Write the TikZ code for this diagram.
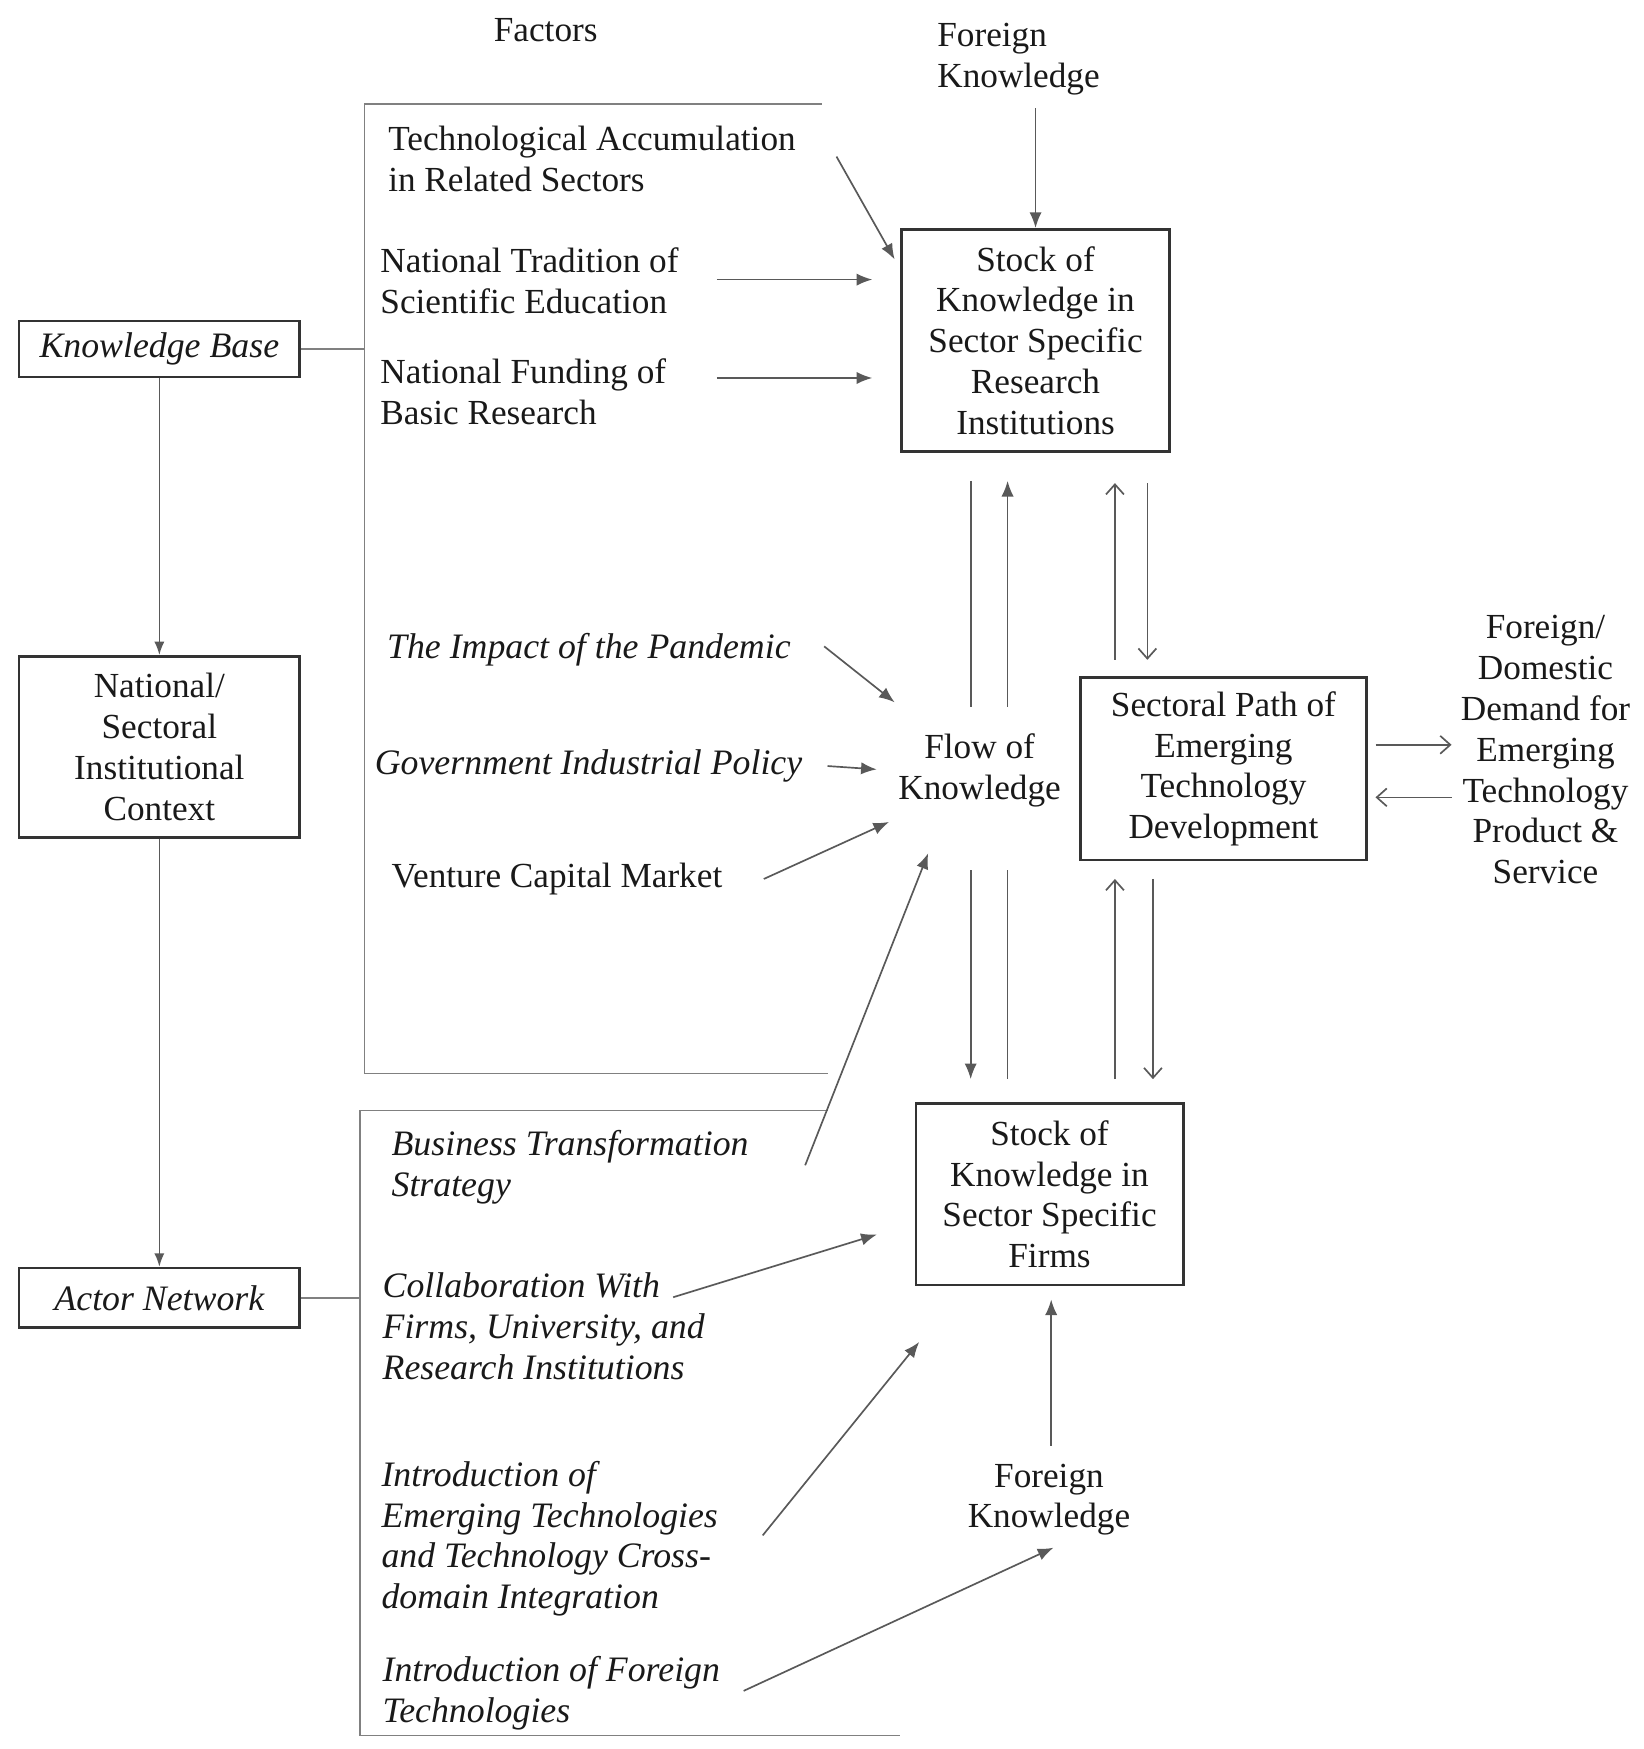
\documentclass[tikz,border=0pt]{standalone}
\usepackage{fontspec}
\setmainfont{LiberationSerif-Regular.ttf}[ItalicFont=LiberationSerif-Italic.ttf, BoldFont=LiberationSerif-Bold.ttf]
\usetikzlibrary{arrows.meta}
\begin{document}
\begin{tikzpicture}[x=1pt,y=-1pt,
  txt/.style={font=\fontsize{31.5}{36.5}\selectfont, inner sep=0pt, text=black!90},
  itx/.style={font=\fontsize{32}{36.5}\selectfont\itshape, inner sep=0pt, text=black!90},
  boxn/.style={draw=black!80, line width=2.4pt, align=center, inner sep=0pt, font=\fontsize{31.5}{36.5}\selectfont, text=black!90},
  conn/.style={draw=black!65, line width=1.5pt},
  fa/.style={conn, -{Latex[length=14pt,width=11pt]}},
  oa/.style={conn, -{Straight Barb[length=9pt,width=16pt]}},
  brk/.style={draw=black!50, line width=1.6pt}
]
\path[use as bounding box] (0,0) rectangle (1470,1564);

% left column boxes
\node[boxn, minimum width=251pt, minimum height=50pt, font=\fontsize{32}{36.5}\selectfont\itshape] (kb) at (142.5,312) {Knowledge Base};
\node[boxn, minimum width=251pt, minimum height=162pt] (nat) at (142.5,668) {National/\\Sectoral\\Institutional\\Context};
\node[boxn, minimum width=251pt, minimum height=53pt, font=\fontsize{32}{36.5}\selectfont\itshape] (act) at (142.5,1160.5) {Actor Network};

% main boxes
\node[boxn, minimum width=240pt, minimum height=199pt] (sri) at (926,304.5) {Stock of\\Knowledge in\\Sector Specific\\Research\\Institutions};
\node[boxn, minimum width=256pt, minimum height=163pt] (sp) at (1094,687.5) {Sectoral Path of\\Emerging\\Technology\\Development};
\node[boxn, minimum width=239pt, minimum height=162pt] (sf) at (938.5,1068) {Stock of\\Knowledge in\\Sector Specific\\Firms};

% free texts
\node[txt] (fac) at (488,27) {Factors};
\node[txt, align=left, anchor=west] (fk1) at (838,53) {Foreign\\Knowledge};
\node[txt, align=center] (fk2) at (938,1341) {Foreign\\Knowledge};
\node[txt, align=center] (flow) at (876,689) {Flow of\\Knowledge};
\node[txt, align=center] (dem) at (1382,670.5) {Foreign/\\Domestic\\Demand for\\Emerging\\Technology\\Product \&\\Service};

\node[txt, align=left, anchor=west] (tech) at (347,142) {Technological Accumulation\\in Related Sectors};
\node[txt, align=left, anchor=west] (trad) at (340,251) {National Tradition of\\Scientific Education};
\node[txt, align=left, anchor=west] (fund) at (340,350) {National Funding of\\Basic Research};
\node[itx, anchor=west] (pand) at (346,581) {The Impact of the Pandemic};
\node[itx, anchor=west] (gov) at (335,685) {Government Industrial Policy};
\node[txt, anchor=west] (vc) at (350,786) {Venture Capital Market};
\node[itx, align=left, anchor=west] (bts) at (350,1044) {Business Transformation\\Strategy};
\node[itx, align=left, anchor=west] (col) at (342,1186) {Collaboration With\\Firms, University, and\\Research Institutions};
\node[itx, align=left, anchor=west] (intro) at (341,1376) {Introduction of\\Emerging Technologies\\and Technology Cross-\\domain Integration};
\node[itx, align=left, anchor=west] (ftec) at (342,1514) {Introduction of Foreign\\Technologies};

% brackets
\coordinate (b1a) at (735,93); \coordinate (b1b) at (326,93); \coordinate (b1c) at (326,960); \coordinate (b1d) at (740,960);
\coordinate (b2a) at (740,993); \coordinate (b2b) at (322,993); \coordinate (b2c) at (322,1552); \coordinate (b2d) at (805,1552);
\draw[brk] (b1a) -- (b1b) -- (b1c) -- (b1d);
\draw[brk] (b2a) -- (b2b) -- (b2c) -- (b2d);
\draw[brk] (kb.east) -- (kb.east -| b1b);
\draw[brk] (act.east) -- (act.east -| b2b);

% left column arrows
\draw[conn, -{Latex[length=12pt,width=9pt]}] (kb) -- (nat);
\draw[conn, -{Latex[length=12pt,width=9pt]}] (nat) -- (act);

% factor arrows
\coordinate (t1) at (748,140); \coordinate (t2) at (800,232);
\draw[fa] (t1) -- (t2);
\coordinate (r1) at (641,250); \coordinate (r2) at (780,250);
\draw[fa] (r1) -- (r2);
\coordinate (f1) at (641,338); \coordinate (f2) at (780,338);
\draw[fa] (f1) -- (f2);
\coordinate (k1) at (926,97);
\draw[fa] (k1) -- (sri.north);
\coordinate (p1) at (737,578); \coordinate (p2) at (800,628);
\draw[fa] (p1) -- (p2);
\coordinate (g1) at (740,685); \coordinate (g2) at (784,688);
\draw[fa] (g1) -- (g2);
\coordinate (v1) at (683,786); \coordinate (v2) at (795,735);
\draw[fa] (v1) -- (v2);
\coordinate (s1) at (720,1042); \coordinate (s2) at (830,763);
\draw[fa] (s1) -- (s2);
\coordinate (c1) at (602,1160); \coordinate (c2) at (784,1104);
\draw[fa] (c1) -- (c2);
\coordinate (i1) at (682,1373); \coordinate (i2) at (822,1200);
\draw[fa] (i1) -- (i2);
\coordinate (o1) at (665,1512); \coordinate (o2) at (942,1384);
\draw[fa] (o1) -- (o2);
\coordinate (k2) at (940,1293); \coordinate (k3) at (940,1162);
\draw[fa] (k2) -- (k3);

% vertical flows upper
\coordinate (u1) at (868,430); \coordinate (u2) at (868,632);
\draw[conn] (u1) -- (u2);
\coordinate (u3) at (901,632); \coordinate (u4) at (901,430);
\draw[fa] (u3) -- (u4);
\coordinate (u5) at (997,590); \coordinate (u6) at (997,432);
\draw[oa] (u5) -- (u6);
\coordinate (u7) at (1026,432); \coordinate (u8) at (1026,590);
\draw[oa] (u7) -- (u8);

% vertical flows lower
\coordinate (l1) at (868,778); \coordinate (l2) at (868,965);
\draw[fa] (l1) -- (l2);
\coordinate (l3) at (901,778); \coordinate (l4) at (901,965);
\draw[conn] (l3) -- (l4);
\coordinate (l5) at (997,965); \coordinate (l6) at (997,786);
\draw[oa] (l5) -- (l6);
\coordinate (l7) at (1031,786); \coordinate (l8) at (1031,965);
\draw[oa] (l7) -- (l8);

% demand arrows
\coordinate (d1) at (1230,666); \coordinate (d2) at (1298,666);
\draw[oa] (d1) -- (d2);
\coordinate (d3) at (1298,713); \coordinate (d4) at (1230,713);
\draw[oa] (d3) -- (d4);
\end{tikzpicture}
\end{document}
